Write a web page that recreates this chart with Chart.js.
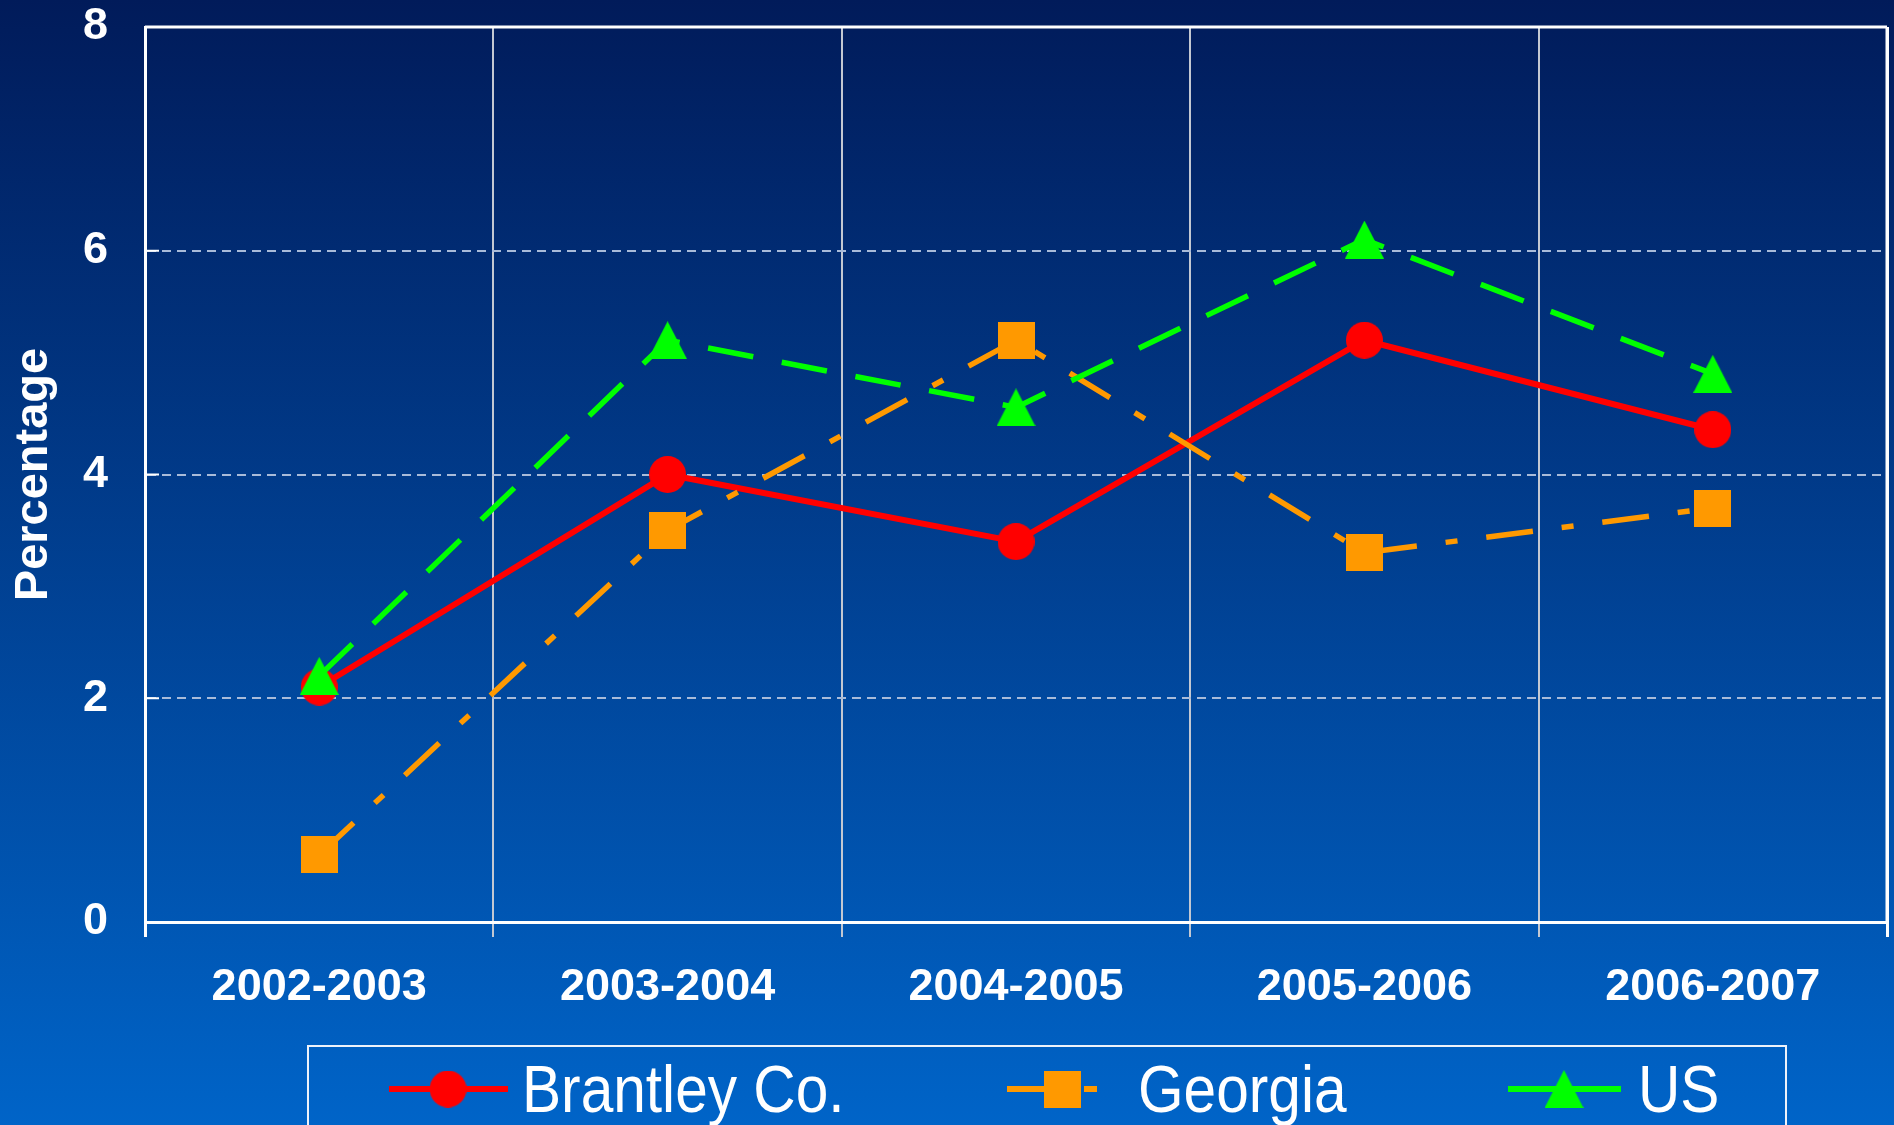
<!DOCTYPE html>
<html><head><meta charset="utf-8">
<script src="https://cdn.jsdelivr.net/npm/chart.js@4.4.1/dist/chart.umd.min.js"></script>
<style>html,body{margin:0;padding:0;background:#003f8c;overflow:hidden}canvas{display:block}</style>
</head><body>
<canvas id="c" width="1894" height="1125"></canvas>
<script>
const categories = ['2002-2003', '2003-2004', '2004-2005', '2005-2006', '2006-2007'];
const brantley = [2.1, 4.0, 3.4, 5.2, 4.4];
const georgia = [0.6, 3.5, 5.2, 3.3, 3.7];
const us = [2.2, 5.2, 4.6, 6.1, 4.9];
const yTicks = [0, 2, 4, 6, 8];
const seriesNames = ['Brantley Co.', 'Georgia', 'US'];
const yTitle = 'Percentage';

const FONT = '"Liberation Sans", Arial, Helvetica, sans-serif';
Chart.defaults.font.family = FONT;

function markerCanvas(kind, w, h, color) {
  const c = document.createElement('canvas');
  c.width = w; c.height = h;
  const x = c.getContext('2d');
  x.fillStyle = color;
  x.beginPath();
  if (kind === 'circle') x.arc(w / 2, h / 2, w / 2, 0, Math.PI * 2);
  else if (kind === 'rect') x.rect(0, 0, w, h);
  else { x.moveTo(w / 2, 0); x.lineTo(w, h); x.lineTo(0, h); x.closePath(); }
  x.fill();
  return c;
}
const circleImg = markerCanvas('circle', 37, 37, '#ff0000');
const squareImg = markerCanvas('rect', 37, 37, '#ff9900');
const triangleImg = markerCanvas('tri', 39, 38, '#00ff00');

const bgPlugin = {
  id: 'bg',
  beforeDraw(chart) {
    const {ctx, width, height} = chart;
    const g = ctx.createLinearGradient(0, 0, 0, height);
    g.addColorStop(0, '#011b5a');
    g.addColorStop(1, '#0064c8');
    ctx.save(); ctx.fillStyle = g; ctx.fillRect(0, 0, width, height); ctx.restore();
  }
};

const framePlugin = {
  id: 'frame',
  beforeDatasetsDraw(chart) {
    const {ctx, chartArea: a, scales} = chart;
    ctx.save();
    ctx.strokeStyle = '#ffffff';
    ctx.lineWidth = 3;
    ctx.beginPath(); ctx.moveTo(a.left, a.top); ctx.lineTo(a.right, a.top); ctx.stroke();
    ctx.beginPath(); ctx.moveTo(a.right, a.top); ctx.lineTo(a.right, a.bottom); ctx.stroke();
    ctx.lineWidth = 2;
    scales.y.ticks.forEach(t => {
      const y = scales.y.getPixelForValue(t.value);
      ctx.beginPath(); ctx.moveTo(a.left, y); ctx.lineTo(a.left + 14, y); ctx.stroke();
    });
    ctx.restore();
  }
};

const legendPlugin = {
  id: 'boxLegend',
  afterDraw(chart) {
    const ctx = chart.ctx;
    const ds = chart.data.datasets;
    const cy = 1089;
    ctx.save();
    ctx.strokeStyle = '#eef2fa';
    ctx.lineWidth = 2;
    ctx.strokeRect(308, 1046, 1478, 120);
    ctx.lineWidth = 6;
    // Brantley
    ctx.strokeStyle = ds[0].borderColor;
    ctx.beginPath(); ctx.moveTo(389, cy); ctx.lineTo(508, cy); ctx.stroke();
    ctx.drawImage(circleImg, 448 - 18.5, cy - 18.5);
    // Georgia
    ctx.strokeStyle = ds[1].borderColor; ctx.setLineDash([73, 4, 20]);
    ctx.beginPath(); ctx.moveTo(1007, cy); ctx.lineTo(1097, cy); ctx.stroke();
    ctx.setLineDash([]);
    ctx.drawImage(squareImg, 1062 - 18.5, cy - 18.5);
    // US
    ctx.strokeStyle = ds[2].borderColor;
    ctx.beginPath(); ctx.moveTo(1508, cy); ctx.lineTo(1621, cy); ctx.stroke();
    ctx.drawImage(triangleImg, 1564 - 19.5, cy - 19);
    // texts
    ctx.fillStyle = '#ffffff';
    ctx.font = '67px ' + FONT;
    ctx.textBaseline = 'alphabetic';
    ctx.textAlign = 'left';
    const xs = [522, 1138, 1638];
    ds.forEach((d, i) => {
      ctx.save();
      ctx.translate(xs[i], 1112);
      ctx.scale(0.875, 1);
      ctx.fillText(d.label, 0, 0);
      ctx.restore();
    });
    ctx.restore();
  }
};

const edgeColor = c => (c.index === undefined || c.index === 0) ? '#ffffff' : '#c3c8d2';

new Chart(document.getElementById('c'), {
  type: 'line',
  data: {
    labels: categories,
    datasets: [
      { label: seriesNames[0], data: brantley, order: 2,
        borderColor: '#ff0000', backgroundColor: '#ff0000', borderWidth: 6,
        pointStyle: circleImg, pointRadius: 1, pointHoverRadius: 1, pointBorderWidth: 0,
        tension: 0 },
      { label: seriesNames[1], data: georgia, order: 1,
        borderColor: '#ff9900', backgroundColor: '#ff9900', borderWidth: 5.5,
        borderDash: [47, 29, 12, 29],
        pointStyle: squareImg, pointRadius: 1, pointHoverRadius: 1, pointBorderWidth: 0,
        tension: 0 },
      { label: seriesNames[2], data: us, order: 0,
        borderColor: '#00ff00', backgroundColor: '#00ff00', borderWidth: 5.5,
        borderDash: [46, 29],
        pointStyle: triangleImg, pointRadius: 1, pointHoverRadius: 1, pointBorderWidth: 0,
        tension: 0 }
    ]
  },
  options: {
    responsive: false,
    animation: false,
    events: [],
    layout: { padding: { left: 6, right: 7, top: 27, bottom: 113 } },
    plugins: { legend: { display: false }, tooltip: { enabled: false } },
    scales: {
      x: {
        offset: true,
        afterFit: s => { s.height = 90; s.paddingLeft = 0; s.paddingRight = 0; },
        grid: { offset: true, color: edgeColor, tickColor: edgeColor,
                lineWidth: c => (c.index === undefined || c.index === 0) ? 3 : 2,
                drawTicks: true, tickLength: 15 },
        border: { color: '#ffffff', width: 3 },
        ticks: { color: '#ffffff', font: { size: 45, weight: 'bold' }, padding: 24,
                 maxRotation: 0, autoSkip: false }
      },
      y: {
        min: 0, max: 8,
        afterBuildTicks: s => { s.ticks = yTicks.map(v => ({ value: v })); },
        afterFit: s => { s.width = 139; s.paddingTop = 0; s.paddingBottom = 0; },
        grid: { color: c => (c.tick && (c.tick.value === 0 || c.tick.value === 8)) ? 'rgba(0,0,0,0)' : '#a9bbd9',
                lineWidth: 2, drawTicks: false },
        border: { color: '#ffffff', width: 3, dash: c => c.type === 'tick' ? [9, 6] : [] },
        ticks: { color: '#ffffff', font: { size: 45, weight: 'bold' }, padding: 37 },
        title: { display: true, text: yTitle, color: '#ffffff',
                 font: { size: 47, weight: 'bold' }, padding: { top: 0, bottom: 21 } }
      }
    }
  },
  plugins: [bgPlugin, framePlugin, legendPlugin]
});
</script>
</body></html>
